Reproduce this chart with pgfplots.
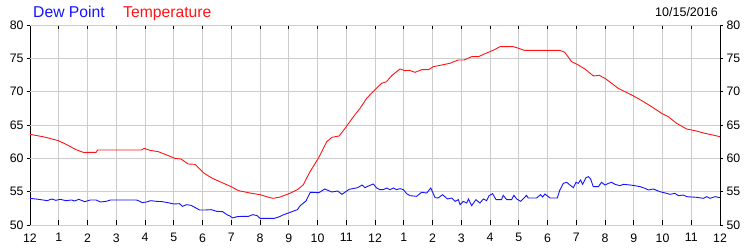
\documentclass[border=0pt]{standalone}
\usepackage{pgfplots}
\pgfplotsset{compat=1.18}
\usepackage{fontspec}
\setmainfont{Liberation Sans}
\definecolor{gridc}{RGB}{204,204,204}
\definecolor{dewc}{RGB}{20,20,255}
\definecolor{tempc}{RGB}{255,20,20}
\pgfplotstableread{
h t
0.0 63.6
0.5 63.2
0.99 62.65
1.3 62.0
1.6 61.3
1.85 60.9
2.3 60.9
2.35 61.25
3.88 61.25
3.97 61.5
4.17 61.2
4.46 61.0
4.7 60.6
5.04 60.0
5.25 59.9
5.5 59.15
5.74 59.1
6.03 57.85
6.3 57.1
6.6 56.5
7.0 55.75
7.25 55.15
7.71 54.75
8.0 54.55
8.35 54.1
8.46 54.0
8.7 54.2
9.04 54.75
9.3 55.3
9.5 56.0
9.74 58.0
10.03 60.0
10.32 62.5
10.5 63.15
10.75 63.35
10.96 64.5
11.25 66.25
11.48 67.5
11.71 69.0
12.0 70.3
12.23 71.25
12.4 71.5
12.58 72.4
12.87 73.4
13.04 73.15
13.2 73.2
13.39 72.9
13.63 73.3
13.86 73.3
14.03 73.75
14.32 74.0
14.6 74.25
14.9 74.75
15.1 74.75
15.36 75.25
15.6 75.25
15.8 75.65
16.0 76.0
16.15 76.3
16.35 76.75
16.81 76.75
17.0 76.5
17.19 76.2
18.43 76.2
18.6 75.9
18.84 74.5
19.07 74.0
19.3 73.4
19.6 72.35
19.8 72.45
20.0 72.0
20.46 70.5
20.93 69.5
21.28 68.65
21.62 67.75
21.97 66.75
22.2 66.25
22.49 65.25
22.84 64.4
23.13 64.15
23.48 63.75
24.0 63.25
}\temptable
\pgfplotstableread{
h d
0.0 54.0
0.3 53.85
0.6 53.65
0.75 53.9
0.9 53.7
1.05 53.85
1.25 53.65
1.45 53.75
1.55 53.6
1.7 53.85
1.9 53.5
2.1 53.75
2.3 53.75
2.45 53.45
2.65 53.55
2.8 53.75
3.0 53.75
3.5 53.75
3.7 53.75
3.8 53.6
3.9 53.35
4.05 53.45
4.2 53.65
4.4 53.55
4.6 53.5
4.8 53.35
5.0 53.15
5.2 53.2
5.3 52.8
5.45 53.05
5.6 52.95
5.75 52.6
5.9 52.25
6.1 52.25
6.3 52.3
6.5 52.05
6.7 52.0
6.85 51.55
6.95 51.35
7.05 51.05
7.2 51.25
7.4 51.3
7.6 51.3
7.75 51.55
7.9 51.4
8.0 51.0
8.5 51.0
8.65 51.2
8.8 51.5
9.05 51.9
9.3 52.3
9.4 52.9
9.6 53.6
9.75 54.9
10.05 54.85
10.25 55.4
10.5 54.95
10.7 55.1
10.85 54.6
11.1 55.35
11.4 55.6
11.55 56.0
11.65 55.6
11.8 55.9
11.94 56.15
12.06 55.55
12.17 55.3
12.29 55.3
12.41 55.55
12.52 55.3
12.64 55.55
12.75 55.3
12.87 55.45
12.99 55.3
13.10 54.7
13.22 54.4
13.45 54.3
13.62 54.9
13.80 54.8
13.94 55.55
14.09 54.1
14.20 54.05
14.35 54.55
14.52 53.9
14.67 54.05
14.79 53.55
14.90 53.8
14.96 53.05
15.07 53.55
15.19 53.3
15.25 53.9
15.36 52.9
15.51 53.8
15.65 53.3
15.77 53.9
15.88 53.65
15.97 54.4
16.09 54.7
16.21 53.8
16.40 53.8
16.46 54.45
16.58 53.8
16.75 53.8
16.83 54.45
16.93 53.9
17.07 53.55
17.27 54.45
17.33 54.05
17.62 54.05
17.76 54.55
17.83 54.2
17.91 54.65
18.09 54.05
18.34 54.05
18.43 55.25
18.55 56.25
18.67 56.4
18.78 56.0
18.90 55.6
18.99 56.4
19.07 56.25
19.15 56.75
19.22 56.1
19.34 57.1
19.42 57.25
19.50 56.9
19.59 55.75
19.77 55.75
19.88 56.4
20.0 56.0
20.12 56.25
20.23 56.4
20.35 56.1
20.52 55.9
20.64 56.1
20.87 56.0
21.04 55.9
21.22 55.75
21.39 55.5
21.51 55.25
21.68 55.4
21.91 55.0
22.14 54.75
22.26 54.6
22.43 54.75
22.55 54.4
22.73 54.5
22.84 54.25
23.19 54.15
23.42 54.0
23.54 54.25
23.65 54.0
23.83 54.25
24.0 54.1
}\dewtable
\begin{document}
\begin{tikzpicture}
\pgfplotsset{
  common/.style={
    at={(0,0)}, anchor=south west, scale only axis,
    width=690pt, height=200pt,
    xmin=0, xmax=24, ymin=50, ymax=80,
    tick label style={font=\fontsize{12.3}{14}\selectfont},
    /pgf/number format/assume math mode=true,
    axis line style={black, line width=0.9pt},
  }
}
\begin{axis}[common, name=main,
    tick align=inside, major tick length=4.5pt,
    tick style={black, line width=0.9pt},
    xtick={0,...,24},
    xticklabels={12,1,2,3,4,5,6,7,8,9,10,11,12,1,2,3,4,5,6,7,8,9,10,11,12},
    x tick label style={yshift=-5pt},
    xmajorgrids,
    grid style={gridc, line width=0.9pt},
    ytick=\empty,
    extra y ticks={50,55,60,65,70,75,80},
    extra y tick style={grid=major, tick align=outside, major tick length=3pt},
  ]
  \addplot[tempc, line width=0.9pt] table[x=h, y=t] {\temptable};
  \addplot[dewc, line width=0.9pt] table[x=h, y=d] {\dewtable};
\end{axis}
\begin{axis}[common,
    axis x line=none, axis y line*=right,
    ytick={50,55,...,80}, major tick length=0pt,
    y tick label style={xshift=3pt},
  ]
  \addplot[draw=none] coordinates {(0,50)};
\end{axis}
\node[anchor=base west, inner sep=0pt, text=dewc, font=\fontsize{15.7}{18}\selectfont] at ([xshift=3pt, yshift=7.7pt]main.north west) {Dew Point};
\node[anchor=base west, inner sep=0pt, text=tempc, font=\fontsize{15.7}{18}\selectfont] at ([xshift=93pt, yshift=7.7pt]main.north west) {Temperature};
\node[anchor=base east, inner sep=0pt, font=\fontsize{12.5}{14}\selectfont] at ([xshift=-2pt, yshift=8.3pt]main.north east) {10/15/2016};
\pgfresetboundingbox
\path[use as bounding box] ([xshift=-30pt, yshift=-25pt]main.south west) rectangle ([xshift=30pt, yshift=25pt]main.north east);
\end{tikzpicture}
\end{document}
